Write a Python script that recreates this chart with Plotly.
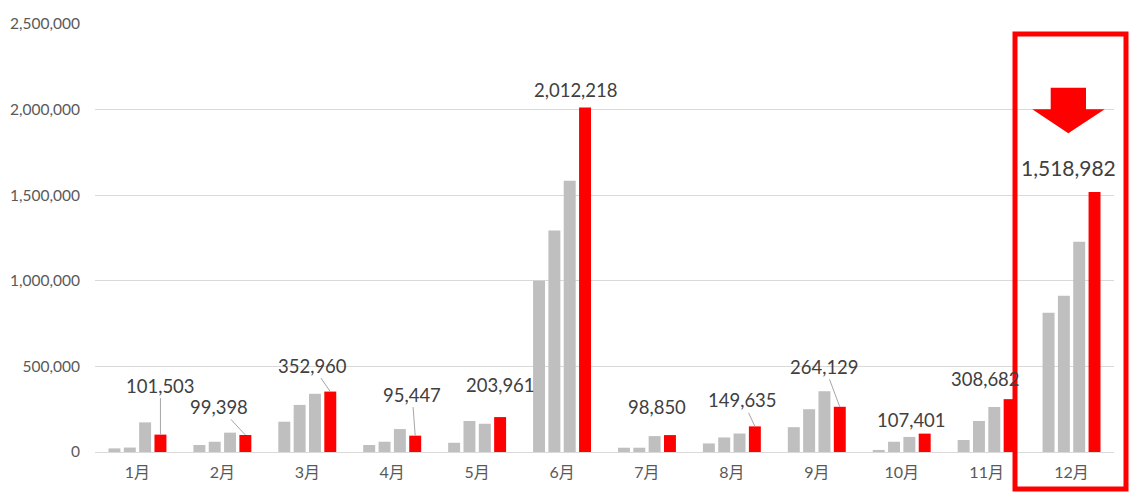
import plotly.graph_objects as go

months = ["1月", "2月", "3月", "4月", "5月", "6月", "7月", "8月", "9月", "10月", "11月", "12月"]
series_a = [21000, 41000, 177000, 41000, 54000, 1000000, 25000, 50000, 145000, 12000, 70000, 813000]
series_b = [26000, 60000, 275000, 60000, 181000, 1294000, 25000, 85000, 250000, 60000, 181000, 912000]
series_c = [173000, 113000, 340000, 134000, 165000, 1585000, 93000, 108000, 355000, 88000, 263000, 1228000]
series_cur = [101503, 99398, 352960, 95447, 203961, 2012218, 98850, 149635, 264129, 107401, 308682, 1518982]
y_ticks = [0, 500000, 1000000, 1500000, 2000000, 2500000]

# label placement (pixel offsets from top of red bar) and whether a leader line is drawn
label_dx = [0, -26, -18, -3, 0, -9, -13, -12, -15, -13, -24, -26]
label_dy = [-49, -28, -26, -41, -32, -18, -28, -26, -40, -14, -20, -24]
label_leader = [True, True, True, True, False, False, False, True, True, False, False, False]

GRAY = "#bfbfbf"
RED = "#ff0000"
BARGAP = 0.278

# the page body has an 8px margin; the figure is sized to fit inside the window
PAGE_OFF = 8
PLOT_L, PLOT_T, PLOT_W, PLOT_H = 95, 24, 1019, 428

fig = go.Figure()
for vals in (series_a, series_b, series_c):
    fig.add_trace(go.Bar(x=months, y=vals, marker_color=GRAY, marker_line_width=0,
                         hoverinfo="y"))
fig.add_trace(go.Bar(x=months, y=series_cur, marker_color=RED, marker_line_width=0,
                     hoverinfo="y"))

red_off = (1 - BARGAP) * 0.375
annotations = []
for i, v in enumerate(series_cur):
    last = i == len(series_cur) - 1
    annotations.append(dict(
        x=i + red_off, y=v, xref="x", yref="y",
        text=f"{v:,}",
        showarrow=True, arrowhead=0, arrowwidth=1, standoff=0,
        arrowcolor="#a6a6a6" if label_leader[i] else "rgba(0,0,0,0)",
        ax=label_dx[i], ay=label_dy[i],
        font=dict(family="Lato, 'Noto Sans', sans-serif", size=21 if last else 18.5,
                  color="#404040"),
    ))

def px_x(p):
    return (p - PLOT_L) / PLOT_W

def px_y(p):
    return (PLOT_T + PLOT_H - p) / PLOT_H

arrow_path = "M {} {} L {} {} L {} {} L {} {} L {} {} L {} {} L {} {} Z".format(
    px_x(1050.7), px_y(87.7),
    px_x(1086.0), px_y(87.7),
    px_x(1086.0), px_y(109.3),
    px_x(1104.7), px_y(109.3),
    px_x(1068.3), px_y(133.3),
    px_x(1032.3), px_y(109.3),
    px_x(1050.7), px_y(109.3),
)

shapes = [
    dict(type="rect", xref="paper", yref="paper", x0=px_x(1015), x1=px_x(1126),
         y0=px_y(489), y1=px_y(34), line=dict(color=RED, width=5),
         fillcolor="rgba(0,0,0,0)", layer="above"),
    dict(type="path", xref="paper", yref="paper", path=arrow_path,
         fillcolor=RED, line=dict(width=0), layer="above"),
]

W, H = 1138 - 2 * PAGE_OFF, 500 - 2 * PAGE_OFF
fig.update_layout(
    width=W, height=H,
    margin=dict(l=PLOT_L - PAGE_OFF, t=PLOT_T - PAGE_OFF,
                r=W - (PLOT_L - PAGE_OFF) - PLOT_W,
                b=H - (PLOT_T - PAGE_OFF) - PLOT_H, pad=0),
    paper_bgcolor="white", plot_bgcolor="white",
    barmode="group", bargap=BARGAP, bargroupgap=0.22,
    showlegend=False,
    font=dict(family="Lato, 'Noto Sans CJK JP', sans-serif", color="#595959"),
    annotations=annotations,
    shapes=shapes,
    xaxis=dict(showline=True, linecolor="#d9d9d9", linewidth=1, ticks="",
               range=[-0.5, len(months) - 0.5],
               tickfont=dict(size=16, color="#595959",
                             family="Lato, 'Noto Sans CJK JP', sans-serif"),
               showgrid=False, ticklabelstandoff=6, automargin=False),
    yaxis=dict(range=[0, 2500000], tickvals=y_ticks, tickformat=",",
               showgrid=True, gridcolor="#d9d9d9", gridwidth=1,
               zeroline=False, ticks="", ticklen=0,
               tickfont=dict(size=15.5, color="#595959"),
               ticklabelstandoff=14, automargin=False),
)

fig.write_html("out.html")
